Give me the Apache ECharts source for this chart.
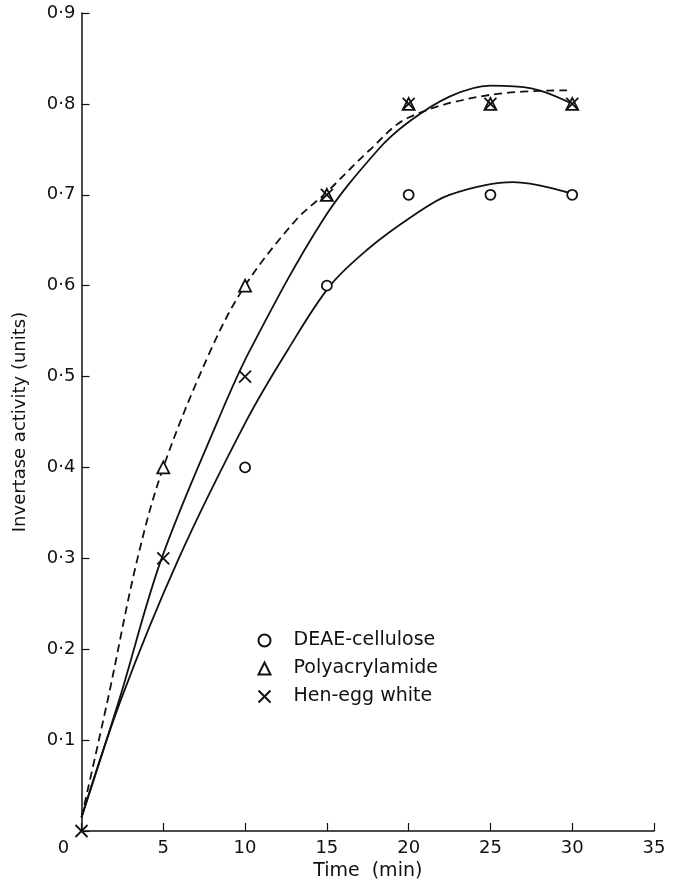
<!DOCTYPE html>
<html>
<head>
<meta charset="utf-8">
<script src="https://cdn.jsdelivr.net/npm/echarts@6/dist/echarts.min.js"></script>
<style>
  html, body { margin: 0; padding: 0; background: #fff; }
  #chart { width: 683px; height: 887px; }
</style>
</head>
<body>
<div id="chart"></div>
<script>
// measured points
var deaePts = [[10, 0.4], [15, 0.6], [20, 0.7], [25, 0.7], [30, 0.7]]
var polyPts = [[5, 0.4], [10, 0.6], [15, 0.7], [20, 0.8], [25, 0.8], [30, 0.8]]
var henPts = [[0, 0], [5, 0.3], [10, 0.5], [15, 0.7], [20, 0.8], [25, 0.8], [30, 0.8]]

// fitted curves
var deaeCurve = [[0, 0.015], [2.4, 0.144], [5.9, 0.298], [10.1, 0.452], [12.6, 0.529], [15.2, 0.6],
  [17.5, 0.64], [20.2, 0.676], [22.5, 0.7], [26.4, 0.714], [30.2, 0.7]]
var polyCurve = [[0, 0.015], [1.6, 0.144], [3.4, 0.298], [5, 0.4], [7.9, 0.529], [10, 0.6],
  [13.1, 0.672], [15, 0.703], [17.6, 0.749], [20, 0.785], [25, 0.81], [30, 0.815]]
var henCurve = [[0, 0.015], [2.3, 0.144], [4.86, 0.298], [8.35, 0.452], [10.3, 0.529], [14.75, 0.672],
  [18.1, 0.749], [20, 0.78], [22.5, 0.808], [25, 0.82], [27.5, 0.817], [30, 0.8]]

var yTicks = ['0·1', '0·2', '0·3', '0·4', '0·5', '0·6', '0·7', '0·8', '0·9']

var INK = '#111'
var FONT = 'DejaVu Sans'
var crossPath = 'path://M0,0L10,10M10,0L0,10'

var chart = echarts.init(document.getElementById('chart'))

function curve(data, dashed) {
  return {
    type: 'line',
    data: data,
    smooth: 0.35,
    symbol: 'none',
    silent: true,
    lineStyle: { color: INK, width: 1.8, type: dashed ? [8, 5] : 'solid' },
    z: 2
  }
}

var option = {
  animation: false,
  backgroundColor: '#fff',
  textStyle: { fontFamily: FONT, color: INK },
  grid: { left: 81.5, right: 29, top: 13, bottom: 56, outerBoundsMode: 'none' },
  legend: {
    orient: 'vertical',
    left: 256,
    top: 631,
    padding: 0,
    itemGap: 9,
    itemWidth: 12,
    itemHeight: 12,
    selectedMode: false,
    textStyle: { fontFamily: FONT, fontSize: 19, color: INK, padding: [0, 0, 0, 18] },
    data: ['DEAE-cellulose', 'Polyacrylamide', 'Hen-egg white']
  },
  xAxis: {
    type: 'value',
    min: 0,
    max: 35,
    interval: 5,
    name: 'Time  (min)',
    nameLocation: 'middle',
    nameGap: 31,
    nameTextStyle: { fontFamily: FONT, fontSize: 19, color: INK },
    axisLine: { lineStyle: { color: INK, width: 1.5 } },
    axisTick: { inside: true, length: 8, lineStyle: { color: INK, width: 1.2 } },
    axisLabel: {
      fontFamily: FONT, fontSize: 18, color: INK, margin: 8,
      formatter: function (v) { return v === 0 ? '{z|0}' : String(v) },
      rich: { z: { fontFamily: FONT, fontSize: 18, color: INK, padding: [0, 36, 0, 0] } }
    },
    splitLine: { show: false }
  },
  yAxis: {
    type: 'value',
    min: 0,
    max: 0.9,
    interval: 0.1,
    name: 'Invertase activity (units)',
    nameLocation: 'middle',
    nameGap: 52,
    nameTextStyle: { fontFamily: FONT, fontSize: 18, color: INK },
    axisLine: { show: true, lineStyle: { color: INK, width: 1.5 } },
    axisTick: { show: true, inside: true, length: 8, lineStyle: { color: INK, width: 1.2 } },
    axisLabel: {
      fontFamily: FONT, fontSize: 18, color: INK, margin: 6,
      formatter: function (v) {
        var i = Math.round(v * 10)
        return i > 0 ? yTicks[i - 1] : ''
      }
    },
    splitLine: { show: false }
  },
  series: [
    curve(deaeCurve, false),
    curve(henCurve, false),
    curve(polyCurve, true),
    {
      name: 'DEAE-cellulose',
      type: 'scatter',
      data: deaePts,
      symbol: 'circle',
      symbolSize: 10,
      itemStyle: { color: '#fff', borderColor: INK, borderWidth: 1.8, opacity: 1 },
      z: 3
    },
    {
      name: 'Polyacrylamide',
      type: 'scatter',
      data: polyPts,
      symbol: 'triangle',
      symbolSize: 12,
      itemStyle: { color: '#fff', borderColor: INK, borderWidth: 1.8, opacity: 1 },
      z: 3
    },
    {
      name: 'Hen-egg white',
      type: 'scatter',
      data: henPts,
      symbol: crossPath,
      symbolSize: 12,
      itemStyle: { color: 'none', borderColor: INK, borderWidth: 1.8, opacity: 1 },
      z: 4
    }
  ]
}

chart.setOption(option)
</script>
</body>
</html>
